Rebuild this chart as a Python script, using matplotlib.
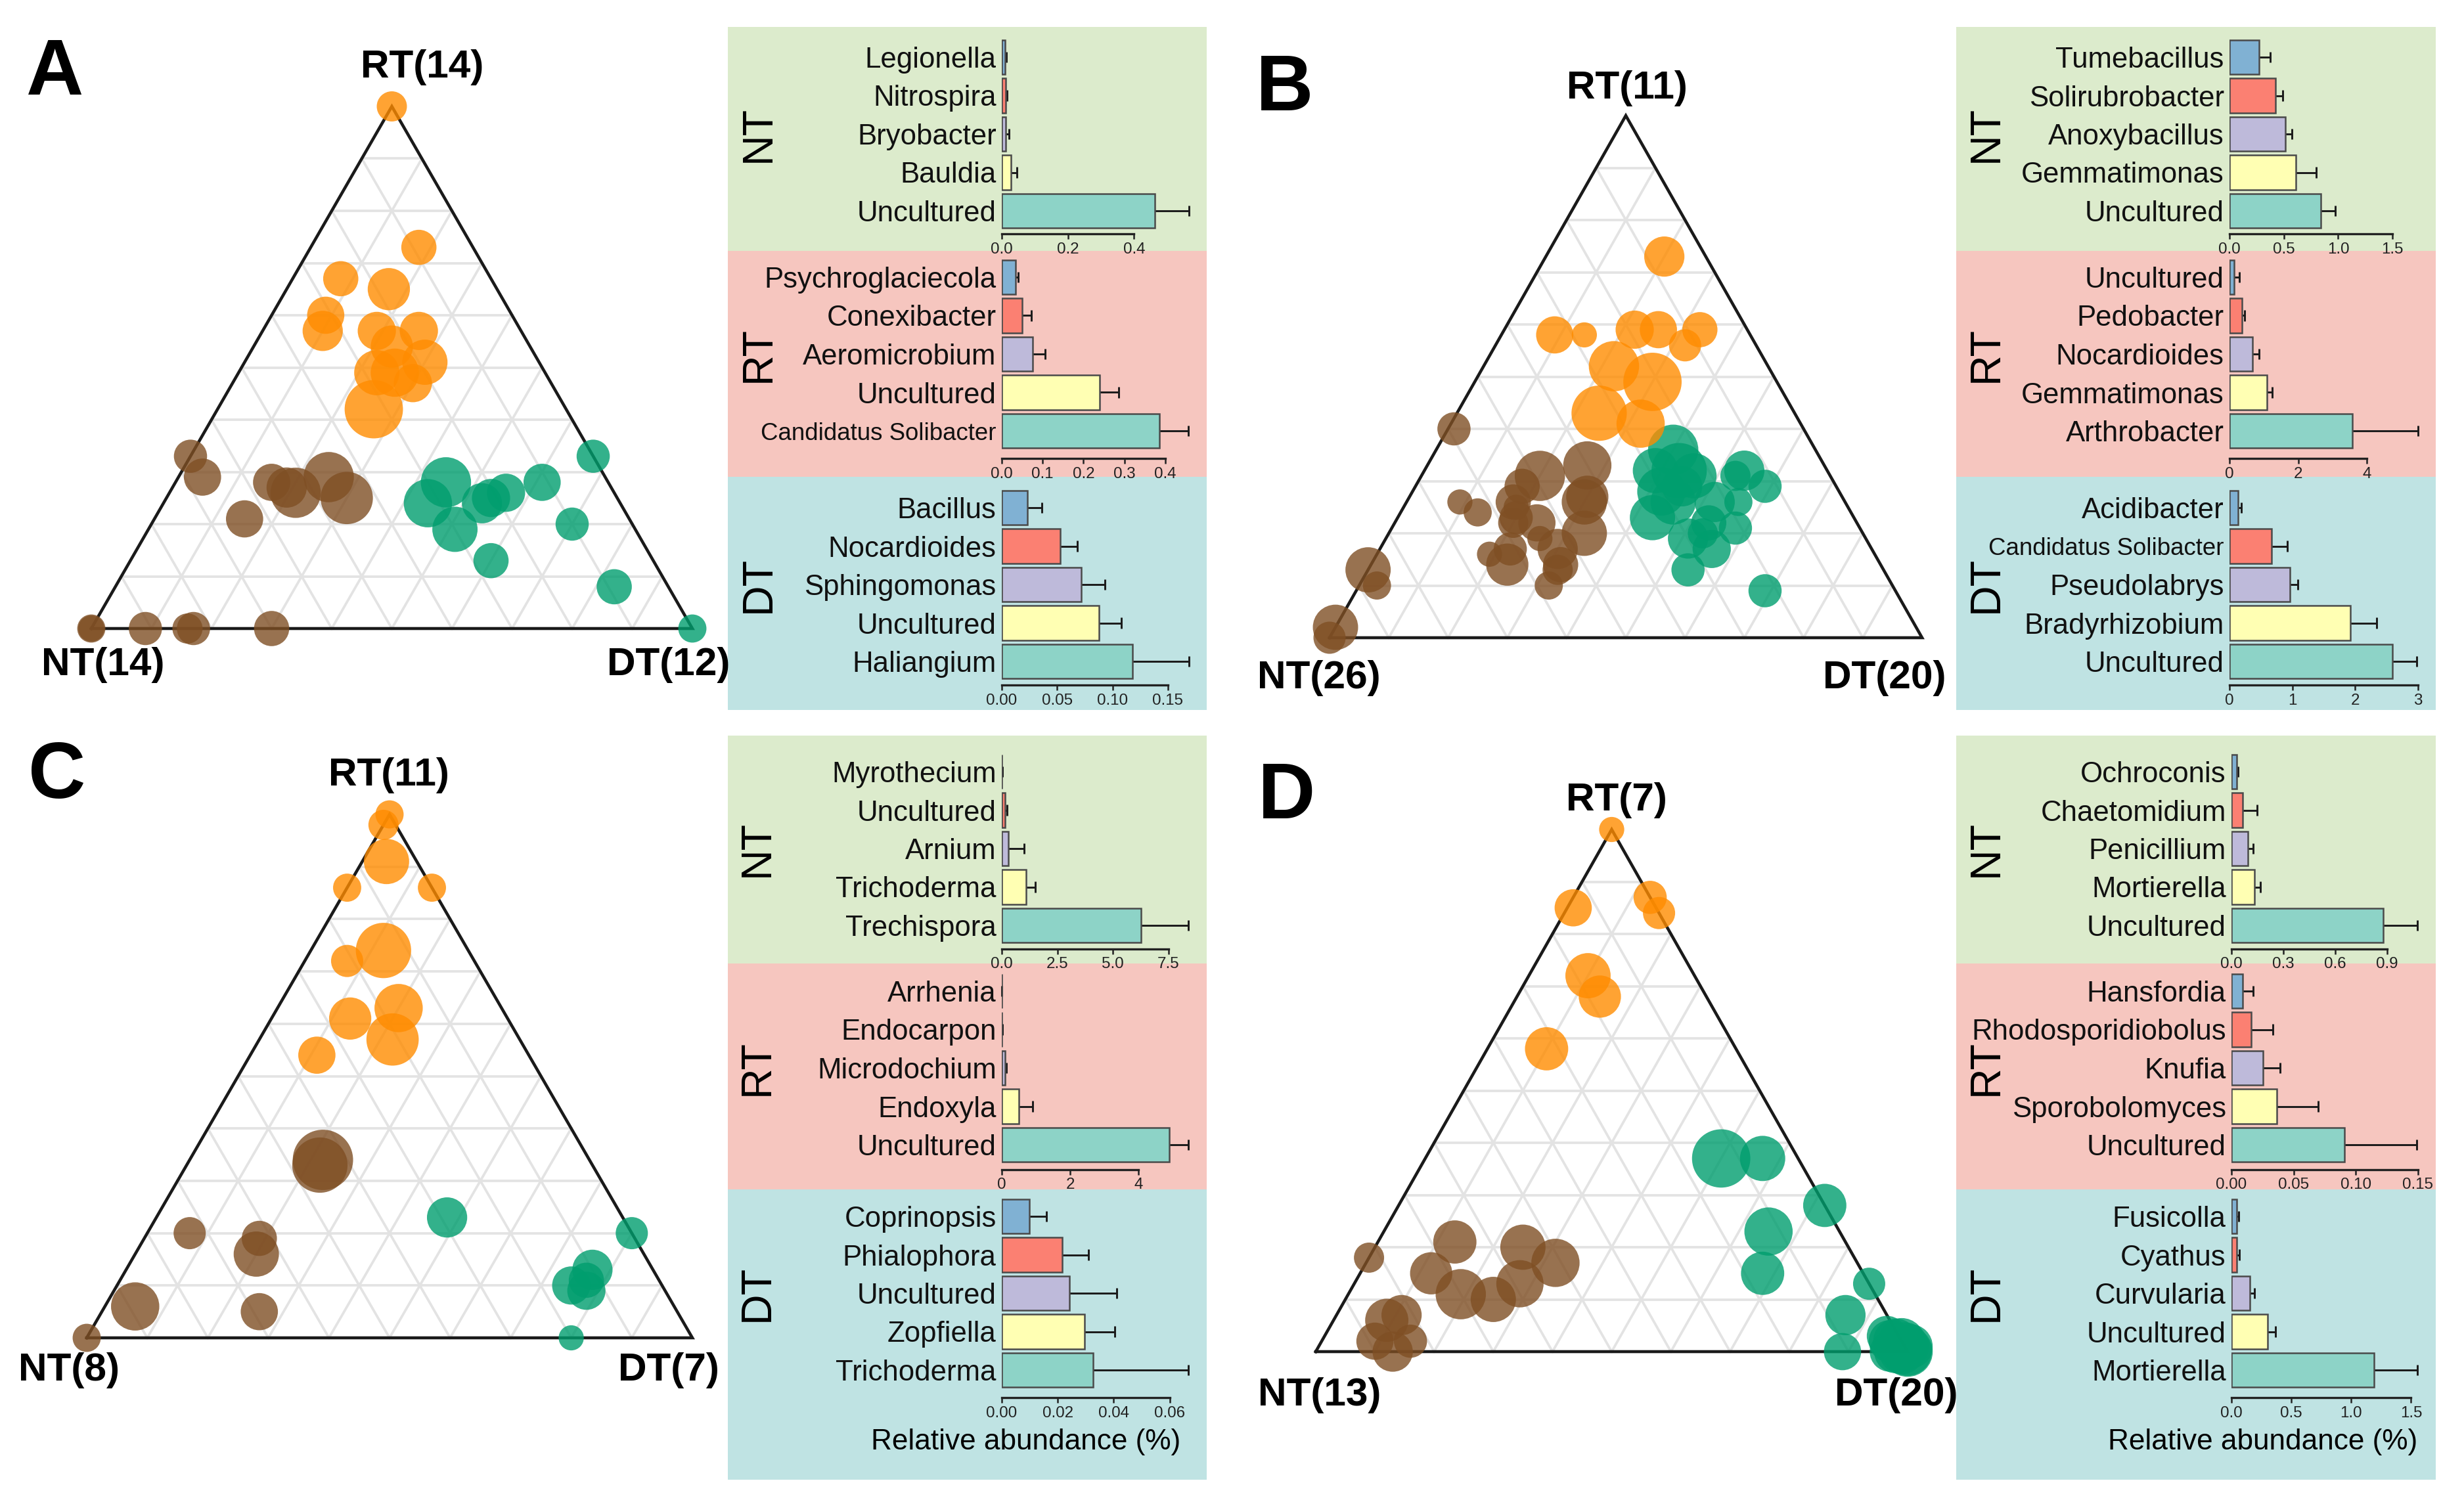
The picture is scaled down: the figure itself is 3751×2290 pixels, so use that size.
import numpy as np
import matplotlib
matplotlib.use("Agg")
import matplotlib.pyplot as plt
from matplotlib.patches import Rectangle

plt.rcParams['font.family'] = ['Liberation Sans', 'DejaVu Sans']

# ---------------- ternary data: (RT share, DT share, bubble size) ----------------
a_rt_pts = [(1.00, 0.00, 3.0), (0.73, 0.18, 3.5), (0.67, 0.08, 3.5), (0.65, 0.17, 4.2), (0.60, 0.09, 3.7),
            (0.57, 0.10, 4.0), (0.57, 0.19, 3.8), (0.57, 0.26, 3.8), (0.54, 0.23, 4.2), (0.51, 0.30, 4.5),
            (0.49, 0.23, 4.5), (0.49, 0.26, 4.8), (0.47, 0.30, 3.8), (0.42, 0.26, 5.8)]
a_nt_pts = [(0.33, 0.00, 3.3), (0.29, 0.04, 3.7), (0.28, 0.16, 3.7), (0.26, 0.21, 5.0), (0.29, 0.25, 5.0),
            (0.25, 0.30, 5.2), (0.21, 0.15, 3.7), (0.00, 0.00, 2.8), (0.00, 0.00, 2.6), (0.00, 0.09, 3.3),
            (0.00, 0.16, 3.0), (0.00, 0.17, 3.3), (0.00, 0.30, 3.5), (0.27, 0.19, 4.0)]
a_dt_pts = [(0.33, 0.67, 3.3), (0.28, 0.45, 5.0), (0.24, 0.44, 4.8), (0.19, 0.51, 4.5), (0.24, 0.53, 4.0),
            (0.25, 0.54, 3.8), (0.26, 0.56, 3.8), (0.28, 0.61, 3.7), (0.20, 0.70, 3.3), (0.13, 0.60, 3.5),
            (0.08, 0.83, 3.5), (0.00, 1.00, 2.8)]

b_rt_pts = [(0.73, 0.20, 4.0), (0.58, 0.09, 3.7), (0.58, 0.14, 2.5), (0.59, 0.22, 3.8), (0.59, 0.26, 3.7),
            (0.59, 0.33, 3.5), (0.56, 0.32, 3.2), (0.52, 0.22, 5.0), (0.49, 0.30, 5.8), (0.43, 0.24, 5.5),
            (0.41, 0.32, 4.8)]
b_nt_pts = [(0.40, 0.01, 3.3), (0.31, 0.20, 5.0), (0.33, 0.27, 4.8), (0.29, 0.18, 3.5), (0.26, 0.09, 2.5),
            (0.24, 0.13, 2.8), (0.26, 0.18, 3.5), (0.26, 0.30, 4.5), (0.27, 0.30, 4.2), (0.23, 0.20, 3.3),
            (0.22, 0.24, 3.7), (0.22, 0.20, 3.0), (0.20, 0.33, 4.5), (0.17, 0.22, 3.3), (0.17, 0.30, 4.0),
            (0.14, 0.32, 3.5), (0.16, 0.19, 2.5), (0.14, 0.23, 4.2), (0.13, 0.32, 3.0), (0.10, 0.32, 2.8),
            (0.13, 0.00, 4.5), (0.10, 0.03, 2.8), (0.02, 0.00, 4.5), (0.00, 0.00, 3.2), (0.19, 0.26, 2.5),
            (0.25, 0.19, 2.5)]
b_dt_pts = [(0.36, 0.40, 5.0), (0.32, 0.39, 4.5), (0.32, 0.43, 5.5), (0.31, 0.46, 4.5), (0.28, 0.42, 4.8),
            (0.23, 0.43, 4.5), (0.26, 0.45, 4.5), (0.26, 0.52, 4.0), (0.32, 0.54, 4.0), (0.29, 0.59, 3.3),
            (0.31, 0.53, 3.0), (0.26, 0.56, 2.8), (0.22, 0.53, 3.5), (0.21, 0.58, 3.3), (0.19, 0.51, 4.0),
            (0.17, 0.56, 3.8), (0.13, 0.54, 3.3), (0.09, 0.69, 3.3), (0.20, 0.53, 3.0), (0.29, 0.45, 4.0)]

c_rt_pts = [(1.00, 0.00, 2.8), (0.98, 0.00, 3.0), (0.91, 0.04, 4.5), (0.86, 0.00, 2.8), (0.86, 0.14, 2.8),
            (0.74, 0.12, 5.5), (0.72, 0.07, 3.2), (0.63, 0.20, 4.8), (0.61, 0.13, 4.2), (0.57, 0.22, 5.2),
            (0.54, 0.11, 3.7)]
c_nt_pts = [(0.34, 0.22, 6.0), (0.33, 0.22, 5.5), (0.20, 0.07, 3.2), (0.19, 0.19, 3.5), (0.16, 0.20, 4.5),
            (0.06, 0.05, 4.8), (0.05, 0.26, 3.7), (0.00, 0.00, 2.8)]
c_dt_pts = [(0.23, 0.48, 4.0), (0.20, 0.80, 3.2), (0.13, 0.77, 4.0), (0.10, 0.75, 3.8), (0.09, 0.78, 3.8),
            (0.11, 0.77, 3.5), (0.00, 0.80, 2.5)]

d_rt_pts = [(1.00, 0.00, 2.5), (0.85, 0.01, 3.7), (0.87, 0.13, 3.3), (0.84, 0.16, 3.2), (0.72, 0.10, 4.5),
            (0.68, 0.14, 4.2), (0.58, 0.10, 4.3)]
d_nt_pts = [(0.18, 0.00, 3.0), (0.21, 0.13, 4.3), (0.15, 0.12, 4.2), (0.11, 0.19, 5.0), (0.10, 0.25, 4.5),
            (0.20, 0.25, 4.5), (0.17, 0.32, 4.8), (0.13, 0.28, 4.7), (0.07, 0.11, 4.0), (0.06, 0.09, 4.3),
            (0.02, 0.15, 3.3), (0.02, 0.09, 3.7), (0.00, 0.13, 4.0)]
d_dt_pts = [(0.37, 0.50, 5.8), (0.37, 0.57, 4.5), (0.28, 0.72, 4.3), (0.23, 0.65, 4.8), (0.15, 0.68, 4.3),
            (0.13, 0.87, 3.2), (0.07, 0.86, 4.0), (0.00, 0.89, 3.7), (0.03, 0.95, 4.0), (0.02, 0.97, 4.5),
            (0.01, 0.99, 4.8), (0.00, 1.00, 5.0), (0.00, 0.99, 4.5), (0.01, 0.98, 4.2), (0.00, 0.97, 4.0),
            (0.02, 0.98, 4.6), (0.00, 1.00, 4.8), (0.01, 1.00, 4.4), (0.00, 0.98, 4.3), (0.02, 0.96, 4.2)]

# ---------------- bar data: genus, mean, sd per enriched group ----------------
a_nt_names = ["Legionella", "Nitrospira", "Bryobacter", "Bauldia", "Uncultured"]
a_nt_mean = [0.009, 0.011, 0.011, 0.027, 0.463]
a_nt_sd = [0.005, 0.005, 0.011, 0.018, 0.103]
a_rt_names = ["Psychroglaciecola", "Conexibacter", "Aeromicrobium", "Uncultured", "Candidatus Solibacter"]
a_rt_mean = [0.033, 0.050, 0.075, 0.240, 0.385]
a_rt_sd = [0.007, 0.023, 0.031, 0.046, 0.071]
a_dt_names = ["Bacillus", "Nocardioides", "Sphingomonas", "Uncultured", "Haliangium"]
a_dt_mean = [0.023, 0.053, 0.072, 0.088, 0.118]
a_dt_sd = [0.013, 0.015, 0.021, 0.020, 0.051]

b_nt_names = ["Tumebacillus", "Solirubrobacter", "Anoxybacillus", "Gemmatimonas", "Uncultured"]
b_nt_mean = [0.274, 0.424, 0.513, 0.611, 0.841]
b_nt_sd = [0.100, 0.066, 0.063, 0.187, 0.130]
b_rt_names = ["Uncultured", "Pedobacter", "Nocardioides", "Gemmatimonas", "Arthrobacter"]
b_rt_mean = [0.14, 0.36, 0.66, 1.08, 3.58]
b_rt_sd = [0.15, 0.08, 0.19, 0.16, 1.90]
b_dt_names = ["Acidibacter", "Candidatus Solibacter", "Pseudolabrys", "Bradyrhizobium", "Uncultured"]
b_dt_mean = [0.14, 0.67, 0.96, 1.925, 2.59]
b_dt_sd = [0.05, 0.25, 0.125, 0.415, 0.39]

c_nt_names = ["Myrothecium", "Uncultured", "Arnium", "Trichoderma", "Trechispora"]
c_nt_mean = [0.01, 0.14, 0.31, 1.09, 6.27]
c_nt_sd = [0.01, 0.10, 0.68, 0.42, 2.12]
c_rt_names = ["Arrhenia", "Endocarpon", "Microdochium", "Endoxyla", "Uncultured"]
c_rt_mean = [0.005, 0.008, 0.09, 0.50, 4.90]
c_rt_sd = [0.004, 0.004, 0.05, 0.40, 0.56]
c_dt_names = ["Coprinopsis", "Phialophora", "Uncultured", "Zopfiella", "Trichoderma"]
c_dt_mean = [0.0099, 0.0217, 0.0242, 0.0296, 0.0326]
c_dt_sd = [0.0061, 0.0093, 0.0168, 0.0108, 0.0340]

d_nt_names = ["Ochroconis", "Chaetomidium", "Penicillium", "Mortierella", "Uncultured"]
d_nt_mean = [0.029, 0.065, 0.096, 0.132, 0.880]
d_nt_sd = [0.009, 0.085, 0.031, 0.037, 0.196]
d_rt_names = ["Hansfordia", "Rhodosporidiobolus", "Knufia", "Sporobolomyces", "Uncultured"]
d_rt_mean = [0.009, 0.0159, 0.0252, 0.0365, 0.091]
d_rt_sd = [0.0086, 0.0176, 0.0138, 0.033, 0.058]
d_dt_names = ["Fusicolla", "Cyathus", "Curvularia", "Uncultured", "Mortierella"]
d_dt_mean = [0.042, 0.042, 0.152, 0.304, 1.19]
d_dt_sd = [0.018, 0.026, 0.038, 0.066, 0.36]

# x axis ticks and limits of each bar block (NT, RT, DT)
a_ticks = [["0.0", "0.2", "0.4"], ["0.0", "0.1", "0.2", "0.3", "0.4"], ["0.00", "0.05", "0.10", "0.15"]]
b_ticks = [["0.0", "0.5", "1.0", "1.5"], ["0", "2", "4"], ["0", "1", "2", "3"]]
c_ticks = [["0.0", "2.5", "5.0", "7.5"], ["0", "2", "4"], ["0.00", "0.02", "0.04", "0.06"]]
d_ticks = [["0.0", "0.3", "0.6", "0.9"], ["0.00", "0.05", "0.10", "0.15"], ["0.0", "0.5", "1.0", "1.5"]]
a_xmax = [0.566, 0.458, 0.169]
b_xmax = [1.735, 5.48, 2.99]
c_xmax = [8.42, 5.48, 0.0669]
d_xmax = [1.08, 0.15, 1.558]

counts = {"A": (14, 14, 12), "B": (26, 11, 20), "C": (8, 11, 7), "D": (13, 7, 20)}

# ---------------- styling ----------------
W, H = 3751, 2290
col_rt, col_nt, col_dt = "#FF8C00", "#7F4F24", "#009E6E"
bar_colors = ["#80B1D3", "#FB8072", "#BEBADA", "#FFFFB3", "#8DD3C7"]
bg_colors = ["#DCEBCC", "#F6C6BF", "#BFE3E3"]
SQ3 = np.sqrt(3) / 2


def rect(left, top, right, bottom):
    return [left / W, 1 - bottom / H, (right - left) / W, (bottom - top) / H]


def ftext(x, y, s, **kw):
    fig.text(x / W, 1 - y / H, s, **kw)


def tern_xy(rt, dt):
    rt = np.asarray(rt, float)
    dt = np.asarray(dt, float)
    return dt + rt / 2, rt * SQ3


def draw_ternary(box, groups):
    blx, brx, base_y, apex_y = box
    m = 0.15
    wt, ht = brx - blx, base_y - apex_y
    ax = fig.add_axes(rect(blx - m * wt, apex_y - m * ht, brx + m * wt, base_y + m * ht))
    ax.set_xlim(-m, 1 + m)
    ax.set_ylim(-m * SQ3, SQ3 * (1 + m))
    ax.axis("off")
    for k in np.arange(1, 10) / 10:
        for (r0, d0), (r1, d1) in [((k, 0), (k, 1 - k)), ((0, k), (1 - k, k)), ((0, 1 - k), (1 - k, 0))]:
            x, y = tern_xy([r0, r1], [d0, d1])
            ax.plot(x, y, color="#E3E3E3", lw=0.9, zorder=1)
    x, y = tern_xy([0, 0, 1, 0], [0, 1, 0, 0])
    ax.plot(x, y, color="#1a1a1a", lw=1.1, zorder=2, solid_joinstyle="miter")
    for pts, col in groups:
        rt, dt, sz = np.array(pts).T
        x, y = tern_xy(rt, dt)
        ax.scatter(x, y, s=13.5 * sz ** 2, color=col, alpha=0.8, linewidths=0, zorder=3, clip_on=False)


def draw_bars(x0, x1, row0, axis_y, names, mean, sd, ticks, xmax):
    p = 58.5
    ax = fig.add_axes(rect(x0, row0 - 0.55 * p, x1, axis_y))
    ax.patch.set_alpha(0)
    y = np.arange(len(names))
    mean = np.array(mean)
    sd = np.array(sd)
    ax.barh(y, mean, height=0.9, color=bar_colors, edgecolor="#4a4a4a", linewidth=0.6, zorder=2)
    ax.hlines(y, mean, mean + sd, color="#1a1a1a", lw=0.7, zorder=1, clip_on=False)
    ax.vlines(mean + sd, y - 0.14, y + 0.14, color="#1a1a1a", lw=0.7, zorder=1, clip_on=False)
    ax.set_xlim(0, xmax)
    ax.set_ylim((axis_y - row0) / p, -0.55)
    ax.set_yticks(y)
    ax.set_yticklabels(names, fontsize=10.5, color="#111111")
    for lab, nm in zip(ax.get_yticklabels(), names):
        if len(nm) > 20:
            lab.set_fontsize(8.8)
    ax.tick_params(axis="y", length=0, pad=2)
    tv = [float(t) for t in ticks]
    ax.set_xticks(tv)
    ax.set_xticklabels(ticks, fontsize=5.8, color="#222222")
    ax.tick_params(axis="x", length=2, width=0.6, pad=1, color="#222222")
    for s in ["top", "right", "left"]:
        ax.spines[s].set_visible(False)
    ax.spines["bottom"].set_bounds(0, tv[-1])
    ax.spines["bottom"].set_linewidth(0.8)
    ax.spines["bottom"].set_color("#222222")


fig = plt.figure(figsize=(W / 300, H / 300), dpi=300)

# panel layout (pixels)
tern_boxes = {"A": (139, 1054, 957, 162), "B": (2024, 2926, 971, 176),
              "C": (132, 1054, 2037, 1240), "D": (2003, 2904, 2058, 1263)}
label_pos = {"A": [(157, 1012), (643, 103), (1018, 1012)], "B": [(2008, 1033), (2477, 134), (2869, 1033)],
             "C": [(105, 2086), (592, 1181), (1018, 2086)], "D": [(2009, 2124), (2461, 1219), (2887, 2124)]}
letter_pos = {"A": (84, 112), "B": (1956, 136), "C": (87, 1184), "D": (1959, 1214)}
tern_data = {"A": (a_nt_pts, a_rt_pts, a_dt_pts), "B": (b_nt_pts, b_rt_pts, b_dt_pts),
             "C": (c_nt_pts, c_rt_pts, c_dt_pts), "D": (d_nt_pts, d_rt_pts, d_dt_pts)}

for key in "ABCD":
    nt_p, rt_p, dt_p = tern_data[key]
    draw_ternary(tern_boxes[key], [(nt_p, col_nt), (dt_p, col_dt), (rt_p, col_rt)])
    for (lx, ly), grp, n in zip(label_pos[key], ["NT", "RT", "DT"], counts[key]):
        ftext(lx, ly, f"{grp}({n})", fontsize=14.5, fontweight="bold", ha="center", va="center")
    lx, ly = letter_pos[key]
    ftext(lx, ly, key, fontsize=29, fontweight="bold", ha="center", va="center")

# bar blocks
bar_panels = {
    "A": ([a_nt_names, a_rt_names, a_dt_names], [a_nt_mean, a_rt_mean, a_dt_mean],
          [a_nt_sd, a_rt_sd, a_dt_sd], a_ticks, a_xmax),
    "B": ([b_nt_names, b_rt_names, b_dt_names], [b_nt_mean, b_rt_mean, b_dt_mean],
          [b_nt_sd, b_rt_sd, b_dt_sd], b_ticks, b_xmax),
    "C": ([c_nt_names, c_rt_names, c_dt_names], [c_nt_mean, c_rt_mean, c_dt_mean],
          [c_nt_sd, c_rt_sd, c_dt_sd], c_ticks, c_xmax),
    "D": ([d_nt_names, d_rt_names, d_dt_names], [d_nt_mean, d_rt_mean, d_dt_mean],
          [d_nt_sd, d_rt_sd, d_dt_sd], d_ticks, d_xmax),
}
# background x0, x1, bar zero, bar right edge, group label x, axis title x
panel_x = {"A": (1108, 1837, 1525, 1810, 1155, 0), "B": (2978, 3708, 3394, 3681, 3024, 0),
           "C": (1108, 1837, 1525, 1810, 1153, 1562), "D": (2978, 3708, 3397, 3681, 3024, 3445)}
top_y = {"bg": [41, 382, 726, 1081], "rows": [87, 422, 773], "axis": [356, 698, 1043]}
bot_y = {"bg": [1120, 1467, 1811, 2253], "rows": [1175, 1509, 1852], "axis": [1445, 1781, 2128]}

for key in "ABCD":
    names, means, sds, ticks, xmax = bar_panels[key]
    bx0, bx1, zx, rx, labx, titx = panel_x[key]
    yl = top_y if key in "AB" else bot_y
    for i in range(3):
        y0, y1 = yl["bg"][i], yl["bg"][i + 1]
        fig.patches.append(Rectangle((bx0 / W, 1 - y1 / H), (bx1 - bx0) / W, (y1 - y0) / H,
                                     transform=fig.transFigure, color=bg_colors[i], zorder=-5, lw=0))
        draw_bars(zx, rx, yl["rows"][i], yl["axis"][i], names[i], means[i], sds[i], ticks[i], xmax[i])
        mid = yl["rows"][i] + 2 * 58.5
        ftext(labx, mid, ["NT", "RT", "DT"][i], fontsize=15.5, rotation=90, ha="center", va="center")
    if key in "CD":
        ftext(titx, 2195, "Relative abundance (%)", fontsize=10.6, ha="center", va="center")

fig.savefig("out.png", dpi=300, facecolor="white")
